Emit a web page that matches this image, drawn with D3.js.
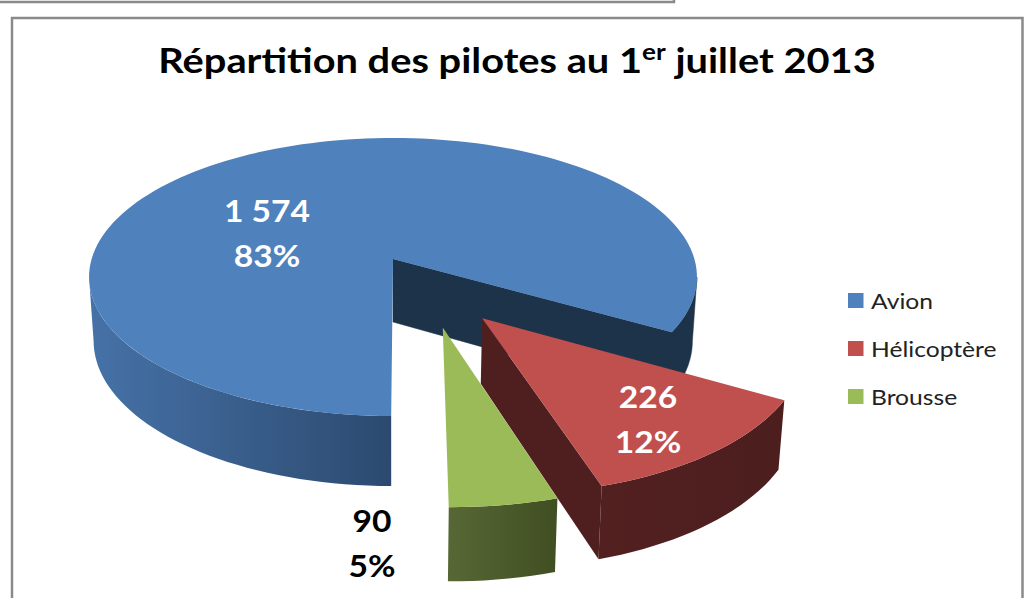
<!DOCTYPE html>
<html>
<head>
<meta charset="utf-8">
<script src="https://cdnjs.cloudflare.com/ajax/libs/d3/7.8.5/d3.min.js"></script>
<style>
  html, body { margin: 0; padding: 0; background: #fff; }
  svg { display: block; font-family: Lato, "Open Sans", sans-serif; }
</style>
</head>
<body>
<svg id="chart" width="1026" height="598"></svg>
<script>
// the chart's values
const categories = ["Avion", "Hélicoptère", "Brousse"];
const counts = [1574, 226, 90];
const countLabels = ["1 574", "226", "90"];
const percentLabels = ["83%", "12%", "5%"];

// slice styling
const topColors = ["#4f81bd", "#c0504d", "#9bbb59"];
const labelColors = ["#fff", "#fff", "#000"];
const labelAnchors = [[267, 211], [648, 397], [372, 521]];
const explode = [[0, 0], [0.28, 0.41], [0.155, 0.47]]; // in pie radii

const TAU = 2 * Math.PI;
const deg = (d) => d * Math.PI / 180;
const svg = d3.select("#chart");

// the reference is stretched sideways, text has to follow
const stretchAt = (x, y, s = 1.12) => `translate(${x},${y}) scale(${s},1)`;

// tilted disc, with perspective: far edge smaller than near edge
const CX = 393, CY = 259, RX = 301.4, RY = 136.7, PERSP = 0.1295;
const DEPTH = 63, BOTTOM_X = 0.985, BOTTOM_Y = 1.045;
const SIDE_LEFT = deg(262.5), SIDE_RIGHT = deg(457.5); // where the rim turns away from the viewer

function project(u, v, bottom) {
  const w = 1 - PERSP * v;
  const x = RX * u / w, y = RY * v / w;
  return bottom
    ? [CX + x * BOTTOM_X, CY + DEPTH + y * BOTTOM_Y]
    : [CX + x, CY + y];
}
function rim(a, off, bottom) {
  return project(Math.sin(a) + off[0], -Math.cos(a) + off[1], bottom);
}
function rimPts(a0, a1, off, bottom) {
  const n = Math.max(2, Math.ceil(Math.abs(a1 - a0) / deg(2)));
  return d3.range(n + 1).map((i) => rim(a0 + (a1 - a0) * i / n, off, bottom));
}
const line = d3.line().curve(d3.curveLinear);
const closed = (pts) => line(pts) + "Z";

const pie = d3.pie().sort(null).startAngle(deg(180.3)).endAngle(deg(180.3) + TAU);
const arcs = pie(counts);

// gradients for the outer walls
const defs = svg.append("defs");
function gradient(id, x1, x2, c1, c2) {
  const g = defs.append("linearGradient").attr("id", id)
    .attr("gradientUnits", "userSpaceOnUse")
    .attr("x1", x1).attr("x2", x2).attr("y1", 0).attr("y2", 0);
  g.append("stop").attr("offset", 0).attr("stop-color", c1);
  g.append("stop").attr("offset", 1).attr("stop-color", c2);
}
gradient("wallBlue", 89, 390, "#4672a8", "#2c4a6f");
gradient("wallRed", 596, 785, "#532020", "#4c1e1e");
gradient("wallGreen", 445, 557, "#586835", "#404e22");

// frame
svg.append("path").attr("d", "M0,2H674V0").attr("fill", "none").attr("stroke", "#8a8a8a").attr("stroke-width", 2.5);
svg.append("path").attr("d", "M12,598V18H1022.5V598").attr("fill", "none").attr("stroke", "#8a8a8a").attr("stroke-width", 2.5);

// title
const title = svg.append("text").attr("transform", stretchAt(517, 73, 1.137))
  .attr("text-anchor", "middle").attr("font-size", 35).attr("font-weight", 700).attr("fill", "#000");
title.append("tspan").text("Répartition des pilotes au 1");
title.append("tspan").attr("dy", -13).attr("font-size", 23).text("er");
title.append("tspan").attr("dy", 13).text(" juillet 2013");

const pieG = svg.append("g");
const off0 = explode[0], blue = arcs[0];
const endA = blue.endAngle, startA = blue.startAngle;

// blue slice: back cut face and right wall as one navy shape, no seam
pieG.append("path").attr("fill", "#1d3349").attr("stroke", "#1d3349").attr("stroke-width", 0.5).attr("d", closed(
  [project(0, 0, false)]
    .concat(rimPts(endA, SIDE_RIGHT, off0, false))
    .concat(rimPts(SIDE_RIGHT, endA, off0, true))
    .concat([project(0, 0, true)])
));
// blue slice: front-left wall
pieG.append("path").attr("fill", "url(#wallBlue)").attr("d", closed(
  rimPts(startA, SIDE_LEFT, off0, false).concat(rimPts(SIDE_LEFT, startA, off0, true))
));
pieG.append("path").attr("fill", topColors[0]).attr("d", closed(
  [project(0, 0, false)].concat(rimPts(startA, endA, off0, false))
));

// exploded slices, red goes under green
[1, 2].forEach((i) => {
  const d = arcs[i], off = explode[i];
  const apexTop = project(off[0], off[1], false), apexBottom = project(off[0], off[1], true);
  const wall = i === 1 ? "url(#wallRed)" : "url(#wallGreen)";
  if (i === 1) {
    pieG.append("path").attr("fill", "#4f1f1f").attr("d", closed([
      apexTop, rim(d.endAngle, off, false), rim(d.endAngle, off, true), apexBottom,
    ]));
  }
  pieG.append("path").attr("fill", wall).attr("d", closed(
    rimPts(d.startAngle, d.endAngle, off, false).concat(rimPts(d.endAngle, d.startAngle, off, true))
  ));
  pieG.append("path").attr("fill", topColors[i]).attr("d", closed(
    [apexTop].concat(rimPts(d.startAngle, d.endAngle, off, false))
  ));
});

// value labels
categories.forEach((c, i) => {
  const g = svg.append("g").attr("text-anchor", "middle").attr("font-size", 30)
    .attr("font-weight", 700).attr("fill", labelColors[i]);
  g.append("text").attr("transform", stretchAt(labelAnchors[i][0], labelAnchors[i][1] + 11)).text(countLabels[i]);
  g.append("text").attr("transform", stretchAt(labelAnchors[i][0], labelAnchors[i][1] + 56)).text(percentLabels[i]);
});

// legend
const legendY = d3.scalePoint().domain(categories).range([300.5, 396.5]);
const legend = svg.append("g").selectAll("g").data(categories).join("g")
  .attr("transform", (c) => `translate(848,${legendY(c)})`);
legend.append("rect").attr("x", 0).attr("y", -7.5).attr("width", 15.5).attr("height", 15)
  .attr("fill", (c, i) => topColors[i]);
legend.append("text").attr("transform", stretchAt(23, 8)).attr("font-size", 22).attr("fill", "#222").text((c) => c);
</script>
</body>
</html>
